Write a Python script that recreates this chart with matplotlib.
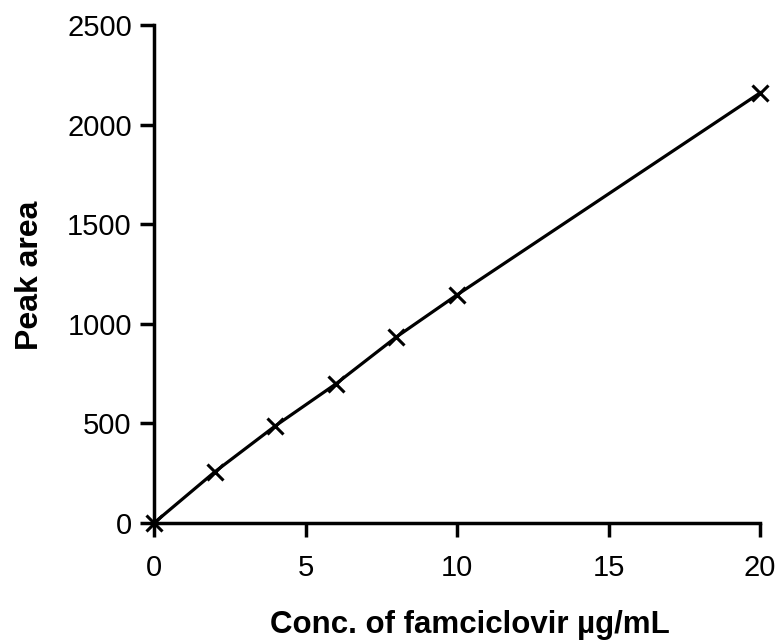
import matplotlib.pyplot as plt

# datos de la curva de calibración
conc = [0, 2, 4, 6, 8, 10, 20]
area = [0, 256, 487, 698, 934, 1145, 2159]
xticks = [0, 5, 10, 15, 20]
yticks = [0, 500, 1000, 1500, 2000, 2500]

plt.rcParams['font.family'] = ['Liberation Sans', 'DejaVu Sans']

fig = plt.figure(figsize=(7.76, 6.42), dpi=100)
ax = fig.add_axes([154 / 776, 119 / 642, 606 / 776, 498 / 642])

ax.plot(conc, area, color='black', linewidth=2.3, marker='x', markersize=12,
        markeredgewidth=2.2, clip_on=False, zorder=5)

ax.set_xlim(0, 20)
ax.set_ylim(0, 2500)
ax.set_xticks(xticks)
ax.set_yticks(yticks)

for side in ['top', 'right']:
    ax.spines[side].set_visible(False)
for side in ['left', 'bottom']:
    ax.spines[side].set_linewidth(2.5)

ax.tick_params(axis='both', direction='out', length=10, width=2.5, labelsize=21)
ax.tick_params(axis='x', pad=12)
ax.tick_params(axis='y', pad=6)

ax.set_xlabel('Conc. of famciclovir µg/mL', fontsize=22.5, fontweight='bold', va='center')
ax.set_ylabel('Peak area', fontsize=23, fontweight='bold', va='center')
ax.xaxis.set_label_coords(0.521, -0.205)
ax.yaxis.set_label_coords(-0.205, 0.498)

fig.savefig('out.png', dpi=100)
